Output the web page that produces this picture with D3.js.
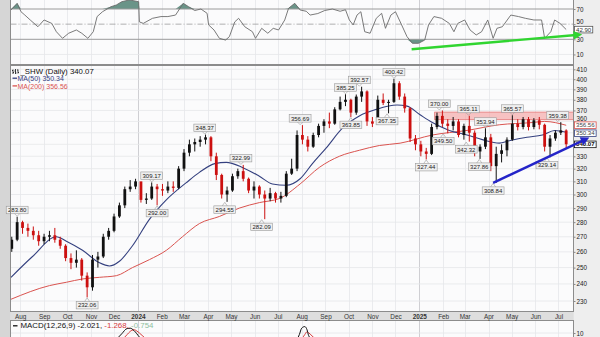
<!DOCTYPE html>
<html><head><meta charset="utf-8">
<script src="https://cdn.jsdelivr.net/npm/d3@7/dist/d3.min.js"></script>
<style>
html,body{margin:0;padding:0;background:#e4e4e4;overflow:hidden}
svg{display:block}
text{font-family:"Liberation Sans",Arial,sans-serif}
</style></head><body>
<svg id="chart" width="600" height="337"></svg>
<script>
// ---------- DATA ----------
// weekly OHLC (week ending Friday, from 2023-07-21 to 2025-07-11)
const opens=[262,268,280,276,274,271,267,270,271,268, 264,256,253,255,245,238,255,257,270,274,
 284,292,304,306,310,296,297,306,304,303, 306,305,320,333,340,342,344,346,330,315,
 300,303,314,318,312,303,306,300,297,301, 297,299,316,320,348,344,338,348,356,360,
 358,371,378,380,368,383,388,360,358,380, 377,378,396,383,372,345,340,334,332,355,
 365,358,356,360,348,356,350,334,338,346, 322,332,335,344,358,355,362,355,361,357,
 338,345,350,352];
const highs=[270,283.8,281,279,277,274,272,274,276,270, 265,259,261,256,247,258,260,272,276,286,
 294,306,311,312,309,301,309.17,308,308,310, 310,322,336,344,345,347,348.37,347,333,316,
 306,316,320,322.99,313,310,307,303,305,302, 302,318,328,352,356.69,347,350,358,362,368,
 373,383,385.25,381,385,392.57,389,364,384,386, 380,400.42,398,386,373,348,343,337,358,368,
 370,362,364,362,358,365.11,352,340,353.94,349, 338,340,346,365.57,362,364,364,363,364,358,
 348,352,359.38,353];
const lows=[260,267,272,270,268,264,265,267,266,262, 254,249,250,242,232.06,236,250,256,268,273,
 283,290,302,304,294,293,296,292,299,301, 302,304,318,330,334,338,340,326,311,297,
 294.55,302,312,310,301,297,297,282.09,295,294, 294,298,315,318,340,334,337,346,350,354,
 357,370,374,363.85,366,378,356,355,357,375, 367.35,377,380,368,342,335,330,327.44,331,353,
 355,349.5,352,346,344,342.32,330,327.86,336,318, 308.84,325,330,343,352,353,352,353,353,334,
 329.14,343,348,337];
const closes=[268,280,276,274,271,267,270,271,268,264, 256,253,255,245,238,255,257,270,274,284,
 292,304,306,310,296,297,306,304,303,306, 305,320,333,340,342,344,346,330,315,300,
 303,314,318,312,303,306,300,297,301,297, 299,316,320,348,344,338,348,356,360,358,
 371,378,380,368,383,388,360,358,380,377, 378,396,383,372,345,340,334,332,355,365,
 358,356,360,348,356,350,334,338,346,322, 332,335,344,358,355,362,355,361,357,338,
 345,350,352,340.07];

const ma50Dates=["2023-07-20","2023-08-17","2023-09-17","2023-09-30","2023-10-21","2023-11-12","2023-11-25","2023-12-08","2023-12-25","2024-01-16","2024-02-07","2024-03-04","2024-03-21","2024-04-10","2024-04-25","2024-05-16","2024-06-07","2024-06-24","2024-07-12","2024-07-30","2024-08-15","2024-09-02","2024-09-23","2024-10-15","2024-11-06","2024-12-03","2024-12-16","2025-01-02","2025-01-18","2025-02-09","2025-03-04","2025-03-24","2025-04-15","2025-04-28","2025-05-21","2025-06-10","2025-06-26","2025-07-11"];
const ma50Vals=[244,257,270,267,261,253,251,254,264,282,296,309,317,324,325,321,314,308,307,312,324,337,354,365,371,375,374,366,359,352,348,344,341,343,346,348,352,350.34];

const ma200Dates=["2023-07-20","2023-09-08","2023-09-30","2023-10-21","2023-11-12","2023-12-04","2023-12-25","2024-01-16","2024-02-07","2024-02-28","2024-03-21","2024-04-16","2024-05-12","2024-06-07","2024-07-03","2024-07-30","2024-08-24","2024-09-19","2024-10-15","2024-11-10","2024-12-07","2025-01-18","2025-03-04","2025-04-15","2025-05-28","2025-06-13","2025-07-11"];
const ma200Vals=[231,239,241,243,244,245,250,255,261,270,279,284,290,294,297,308,321,330,335,339,341,348,352,357,359,360,356.56];

const rsiDates=["2023-07-20","2023-07-28","2023-08-02","2023-08-07","2023-08-14","2023-08-24","2023-09-01","2023-09-11","2023-09-17","2023-09-25",
"2023-10-03","2023-10-13","2023-10-20","2023-10-28","2023-11-04","2023-11-09","2023-11-16","2023-11-27","2023-12-04","2023-12-11",
"2023-12-21","2024-01-02","2024-01-03","2024-01-08","2024-01-20","2024-01-31","2024-02-09","2024-02-19","2024-02-29","2024-03-07",
"2024-03-15","2024-03-23","2024-03-31","2024-04-02","2024-04-09","2024-04-16","2024-04-24","2024-04-29","2024-05-06","2024-05-11",
"2024-05-19","2024-05-29","2024-06-02","2024-06-10","2024-06-18","2024-06-25","2024-07-02","2024-07-10","2024-07-15","2024-07-23",
"2024-07-30","2024-08-07","2024-08-12","2024-08-22","2024-08-31","2024-09-10","2024-09-20","2024-09-27","2024-10-02","2024-10-07",
"2024-10-12","2024-10-17","2024-10-22","2024-10-29","2024-11-06","2024-11-13","2024-11-18","2024-11-25","2024-12-01","2024-12-09",
"2024-12-16","2024-12-23","2024-12-31","2025-01-08","2025-01-13","2025-01-20","2025-01-30","2025-02-09","2025-02-15","2025-02-20",
"2025-03-01","2025-03-08","2025-03-16","2025-03-23","2025-03-31","2025-04-07","2025-04-12","2025-04-19","2025-04-30","2025-05-10",
"2025-05-19","2025-05-30","2025-06-09","2025-06-13","2025-06-21","2025-06-26","2025-07-03","2025-07-11"];
const rsiVals=[68.7,77.5,66.4,62,55.5,46.6,55.5,51,40,31.3,
38,42.3,38,31.3,40,60,66.4,73,75.3,79.6,
82,79.6,53,51,57.7,60,60,62,77.5,73,
68,70,64.3,49,42.3,31.3,29,33.5,53,57.7,
46.6,40,31.3,44.5,38,44.5,42.3,55.5,71,77.5,
68.7,67,62,64,68,70,67,69,55.5,49,
62,66.4,40,38,57.7,64.3,44.5,62,66.4,49,
33.5,24.7,24.7,29,49,60,57.7,51,40,51,
55.5,42.3,35.7,40,55.5,31.3,44.5,46.6,62,60,
57.7,55.5,55.5,31.3,40,55.5,51,42.9];

const macdDates=["2023-07-20","2023-08-15","2023-09-15","2023-10-15","2023-10-31","2023-11-15","2023-11-30","2023-12-04","2023-12-11","2023-12-18","2023-12-22","2023-12-27","2024-01-03","2024-01-10","2024-01-31","2024-02-29","2024-03-28","2024-04-15","2024-04-30","2024-05-15","2024-06-10","2024-07-01","2024-07-15","2024-07-26","2024-07-29","2024-08-01","2024-08-05","2024-08-08","2024-08-10","2024-08-16","2024-08-23","2024-09-20","2024-10-15","2024-11-01","2024-11-29","2024-12-20","2025-01-10","2025-01-31","2025-02-28","2025-03-20","2025-04-08","2025-05-05","2025-05-30","2025-06-16","2025-07-11"];
const macdVals=[3,0,-3,-7,-9,-2,4,6,9.5,12.8,13,11.5,7.5,4.5,2,4,6.5,0,-6,-3,-5,-3,1,6,9,13,14,12,8.5,5,5,6.5,6,0,4,-6,-10,0,-1,-6,-10,2,3,-3,-2.021];
const signalVals=[4,2,-1,-5,-7,-5,0,2.5,5.5,9,11,12,10,7,3.5,3,6,3,-2,-3.5,-3.5,-3.5,-1.5,2,3.5,6,9,10.8,10.2,7.5,5.5,5.5,6,3,2,-1,-6,-4,-1,-3,-6,-3,2,0,-1.268];

const annDates=["2023-07-28","2023-10-27","2024-01-19","2024-01-26","2024-03-28","2024-04-23","2024-05-14","2024-06-10","2024-07-30","2024-09-27","2024-10-04","2024-10-15","2024-11-20","2024-11-29","2025-01-10","2025-01-27","2025-02-01","2025-03-03","2025-03-06","2025-03-20","2025-03-28","2025-04-07","2025-05-02","2025-06-16","2025-06-30"];
const annVals=[283.80,232.06,309.17,292.00,348.37,294.55,322.99,282.09,356.69,385.25,363.85,392.57,367.35,400.42,327.44,370.00,349.50,342.32,365.11,327.86,353.94,308.84,365.57,329.14,359.38];
const annSide=["H","L","H","L","H","L","H","L","H","H","L","H","L","H","L","H","L","L","H","L","H","L","H","L","H"];

const priceTicks=[230,240,250,260,270,280,290,300,310,320,330,360,370,380,390,400,410];
const gridTicks=[230,240,250,260,270,280,290,300,310,320,330,340,350,360,370,380,390,400,410];
const rsiTicks=[10,30,50,70];
const macdTicks=[10];
const lastClose=340.07, lastMA50=350.34, lastMA200=356.56, lastRSI=42.90;
const macdLast=[-2.021,-1.268,-0.754];
const resistance=[361.5,368.5], resistanceStart="2025-01-21";
const supportLine={dates:["2025-04-07","2025-08-03"],vals:[308.84,343.6]};
const rsiTrend={dates:["2024-12-22","2025-07-24"],vals:[16.8,35.7]};

// ---------- LAYOUT ----------
const L=10.5,R=573.5;
const rsiTop=-20,rsiBot=64.5,mainTop=65.5,mainBot=311.5,macdTop=320.5,macdBot=360;
const parse=d3.timeParse("%Y-%m-%d");
const x=d3.scaleTime().domain([new Date(2023,6,20),new Date(2025,6,20)]).range([11,573.1]);
const yP=d3.scaleLog().domain([230,410]).range([301,69.3]);
const yR=d3.scaleLinear().domain([30,70]).range([39.3,9]);
const yM=d3.scaleLinear().domain([0,10]).range([349,333]);

const svg=d3.select("#chart");
const defs=svg.append("defs");
function clip(id,y0,y1){defs.append("clipPath").attr("id",id).append("rect").attr("x",L).attr("y",y0).attr("width",R-L).attr("height",y1-y0);}
clip("cR",rsiTop,rsiBot);clip("cP",mainTop,mainBot);clip("cM",macdTop,macdBot);
function marker(id,col){defs.append("marker").attr("id",id).attr("viewBox","0 0 10 10").attr("refX",3).attr("refY",5)
 .attr("markerWidth",4.2).attr("markerHeight",3.6).attr("orient","auto").append("path").attr("d","M0,0L10,5L0,10z").attr("fill",col);}
marker("aB","#2424c8");marker("aG","#30d530");

svg.append("rect").attr("width",600).attr("height",337).attr("fill","#e4e4e4");
svg.append("rect").attr("x",0).attr("width",L).attr("height",337).attr("fill","#d6d6d6");
svg.append("rect").attr("x",R).attr("width",600-R).attr("height",337).attr("fill","#eeeeee");

const panels=[[rsiTop,rsiBot],[mainTop,mainBot],[macdTop,macdBot]];
panels.forEach(p=>svg.append("rect").attr("x",L).attr("y",p[0]).attr("width",R-L).attr("height",p[1]-p[0]).attr("fill","#fbfbfc"));
svg.append("rect").attr("x",L).attr("y",mainBot).attr("width",R-L).attr("height",macdTop-mainBot).attr("fill","#dedede");

const months=d3.timeMonth.range(new Date(2023,7,1),new Date(2025,6,2));
panels.forEach(p=>{
  svg.append("g").selectAll("line").data(months).join("line")
   .attr("x1",d=>Math.round(x(d))+0.5).attr("x2",d=>Math.round(x(d))+0.5).attr("y1",p[0]).attr("y2",p[1])
   .attr("stroke",d=>d.getMonth()===0?"#c4c4c8":"#e6e7ea").attr("stroke-width",0.8);
});
svg.append("g").selectAll("line").data(gridTicks).join("line")
 .attr("x1",L).attr("x2",R).attr("y1",d=>yP(d)).attr("y2",d=>yP(d)).attr("stroke","#e6e7ea").attr("stroke-width",0.8);
svg.append("g").selectAll("line").data([10,90]).join("line")
 .attr("x1",L).attr("x2",R).attr("y1",d=>yR(d)).attr("y2",d=>yR(d)).attr("stroke","#e6e7ea").attr("stroke-width",0.8);
svg.append("g").selectAll("line").data(macdTicks).join("line")
 .attr("x1",L).attr("x2",R).attr("y1",d=>yM(d)).attr("y2",d=>yM(d)).attr("stroke","#e6e7ea").attr("stroke-width",0.8);

// ---------- RSI ----------
const gR=svg.append("g").attr("clip-path","url(#cR)");
const rsi=rsiDates.map((d,i)=>({d:parse(d),v:rsiVals[i]}));
gR.append("path").datum(rsi).attr("fill","#6a9488")
 .attr("d",d3.area().x(d=>x(d.d)).y0(yR(70)).y1(d=>yR(Math.max(d.v,70))));
gR.append("path").datum(rsi).attr("fill","#6a9488")
 .attr("d",d3.area().x(d=>x(d.d)).y0(yR(30)).y1(d=>yR(Math.min(d.v,30))));
[70,30].forEach(v=>gR.append("line").attr("x1",L).attr("x2",R).attr("y1",yR(v)).attr("y2",yR(v)).attr("stroke","#9a9a9a").attr("stroke-width",1));
gR.append("line").attr("x1",L).attr("x2",R).attr("y1",yR(50)).attr("y2",yR(50)).attr("stroke","#9a9a9a").attr("stroke-width",0.8).attr("stroke-dasharray","6,2,1,2");
gR.append("path").datum(rsi).attr("fill","none").attr("stroke","#6b6b6b").attr("stroke-width",0.9)
 .attr("d",d3.line().x(d=>x(d.d)).y(d=>yR(d.v)));

// ---------- PRICE ----------
const gP=svg.append("g").attr("clip-path","url(#cP)");
gP.append("rect").attr("x",x(parse(resistanceStart))).attr("width",R-x(parse(resistanceStart)))
 .attr("y",yP(resistance[1])).attr("height",yP(resistance[0])-yP(resistance[1]))
 .attr("fill","#f4a3a3").attr("fill-opacity",0.65).attr("stroke","#e06a6a").attr("stroke-width",0.7);
const ma200=ma200Dates.map((d,i)=>({d:parse(d),v:ma200Vals[i]}));
const ma50=ma50Dates.map((d,i)=>({d:parse(d),v:ma50Vals[i]}));
const lineP=d3.line().x(d=>x(d.d)).y(d=>yP(d.v)).curve(d3.curveMonotoneX);
gP.append("path").datum(ma200).attr("fill","none").attr("stroke","#d9534f").attr("stroke-width",1).attr("d",lineP);
gP.append("path").datum(ma50).attr("fill","none").attr("stroke","#34407f").attr("stroke-width",1.1).attr("d",lineP);

const weekDates=d3.timeFriday.range(new Date(2023,6,21),new Date(2025,6,12));
const bars=weekDates.map((d,i)=>({d,o:opens[i],h:highs[i],l:lows[i],c:closes[i]}));
const col=d=>d.c>=d.o?"#111":"#cc1010";
gP.append("g").selectAll("line").data(bars).join("line")
 .attr("x1",d=>x(d.d)).attr("x2",d=>x(d.d)).attr("y1",d=>yP(d.h)).attr("y2",d=>yP(d.l))
 .attr("stroke",col).attr("stroke-width",1);
gP.append("g").selectAll("rect").data(bars).join("rect")
 .attr("x",d=>x(d.d)-1.4).attr("width",2.8)
 .attr("y",d=>yP(Math.max(d.o,d.c))).attr("height",d=>Math.max(1,Math.abs(yP(d.o)-yP(d.c))))
 .attr("fill",col);

// annotations
const gA=svg.append("g");
annDates.forEach((ds,i)=>{
  const cx=x(parse(ds)),py=yP(annVals[i]),hi=annSide[i]==="H";
  const g=gA.append("g");
  const r=g.append("rect");
  const t=g.append("text").attr("x",cx).attr("text-anchor","middle").attr("font-size",6).attr("fill","#222").text(annVals[i].toFixed(2));
  const w=t.node().getComputedTextLength()+3.5,h=7.5;
  const by=hi?py-3-h:py+4;
  r.attr("x",cx-w/2).attr("y",by).attr("width",w).attr("height",h).attr("fill","#efefef").attr("stroke","#9a9a9a").attr("stroke-width",0.6);
  t.attr("y",by+5.9);
  const e=hi?by+h:by;
  g.append("path").attr("d",`M${cx-2.5},${e}L${cx},${hi?py-0.5:py+0.5}L${cx+2.5},${e}`).attr("fill","none").attr("stroke","#999").attr("stroke-width",0.6);
});

// ---------- MACD ----------
const gM=svg.append("g").attr("clip-path","url(#cM)");
const macd=macdDates.map((d,i)=>({d:parse(d),m:macdVals[i],s:signalVals[i]}));
gM.append("path").datum(macd).attr("fill","none").attr("stroke","#d63a3a").attr("stroke-width",1)
 .attr("d",d3.line().x(d=>x(d.d)).y(d=>yM(d.s)).curve(d3.curveMonotoneX));
gM.append("path").datum(macd).attr("fill","none").attr("stroke","#111").attr("stroke-width",1)
 .attr("d",d3.line().x(d=>x(d.d)).y(d=>yM(d.m)).curve(d3.curveMonotoneX));

panels.forEach(p=>svg.append("rect").attr("x",L).attr("y",p[0]).attr("width",R-L).attr("height",p[1]-p[0]).attr("fill","none").attr("stroke","#8c8c8c").attr("stroke-width",1));

// ---------- AXES ----------
const axP=svg.append("g").attr("transform",`translate(${R},0)`)
 .call(d3.axisRight(yP).tickValues(priceTicks).tickFormat(d3.format("d")).tickSize(2).tickPadding(1));
const axR=svg.append("g").attr("transform",`translate(${R},0)`)
 .call(d3.axisRight(yR).tickValues(rsiTicks).tickSize(2).tickPadding(1));
const axM=svg.append("g").attr("transform",`translate(${R},0)`)
 .call(d3.axisRight(yM).tickValues(macdTicks).tickSize(2).tickPadding(1));
[axP,axR,axM].forEach(a=>{a.select(".domain").remove();a.selectAll("line").attr("stroke","#888");
 a.selectAll("text").attr("font-size",6.3).attr("fill","#222").attr("font-family","Liberation Sans, Arial, sans-serif");});
axP.selectAll(".tick").filter(d=>d===360).select("text").attr("dy","-0.12em");
axR.selectAll(".tick").filter(d=>d===50).select("text").attr("dy","-0.1em");
const axX=svg.append("g").attr("transform",`translate(0,${mainBot})`)
 .call(d3.axisBottom(x).tickValues(months).tickSize(0).tickPadding(2.6)
   .tickFormat(d=>d.getMonth()===0?d3.timeFormat("%Y")(d):d3.timeFormat("%b")(d)));
axX.select(".domain").remove();
axX.selectAll("text").attr("font-size",6.4).attr("fill","#333").attr("font-family","Liberation Sans, Arial, sans-serif")
 .attr("font-weight",d=>d.getMonth()===0?"bold":"normal");

function vbox(y,txt,stroke,bold,fill){
  const g=svg.append("g");
  const r=g.append("rect");
  const t=g.append("text").attr("x",R+2.5).attr("y",y+2.1).attr("font-size",6.1).attr("fill",fill||"#222").attr("font-weight",bold?"bold":"normal").text(txt);
  const w=t.node().getComputedTextLength()+3;
  r.attr("x",R+1).attr("y",y-3.2).attr("width",w).attr("height",6.6).attr("fill","#fff").attr("stroke",stroke).attr("stroke-width",0.8);
}
vbox(yP(lastMA200)-0.2,lastMA200.toFixed(2),"#d9534f",false,"#444");
vbox(yP(lastMA50)+0.8,lastMA50.toFixed(2),"#34407f",false,"#444");
vbox(yP(lastClose),lastClose.toFixed(2),"#111",true,"#111");
vbox(yR(lastRSI),lastRSI.toFixed(2),"#555",false,"#333");

svg.append("line").attr("x1",x(parse(supportLine.dates[0]))).attr("y1",yP(supportLine.vals[0]))
 .attr("x2",x(parse(supportLine.dates[1]))).attr("y2",yP(supportLine.vals[1]))
 .attr("stroke","#2424c8").attr("stroke-width",2.4).attr("marker-end","url(#aB)");
svg.append("line").attr("x1",x(parse(rsiTrend.dates[0]))).attr("y1",yR(rsiTrend.vals[0]))
 .attr("x2",x(parse(rsiTrend.dates[1]))).attr("y2",yR(rsiTrend.vals[1]))
 .attr("stroke","#30d530").attr("stroke-width",2.4).attr("marker-end","url(#aG)");

// ---------- LEGENDS ----------
const lg=svg.append("g");
lg.append("path").attr("d","M13,69.5v4.5M12,70.5h1M13,72.5h1M15.5,69v5M14.5,71h1M15.5,73h1M18,69.5v4M17,70h1M18,72.5h1")
 .attr("stroke","#111").attr("stroke-width",0.8);
lg.append("text").attr("x",20.5).attr("y",74.3).attr("font-size",7.8).attr("fill","#111").text("_SHW (Daily) "+lastClose.toFixed(2));
lg.append("line").attr("x1",12.5).attr("x2",17).attr("y1",78.2).attr("y2",78.2).attr("stroke","#34407f").attr("stroke-width",1.3);
lg.append("text").attr("x",17.5).attr("y",80.8).attr("font-size",7).attr("fill","#34407f").text("MA(50) "+lastMA50.toFixed(2));
lg.append("line").attr("x1",12.5).attr("x2",17).attr("y1",85.9).attr("y2",85.9).attr("stroke","#d9534f").attr("stroke-width",1.3);
lg.append("text").attr("x",17.5).attr("y",88.5).attr("font-size",7).attr("fill","#d9534f").text("MA(200) "+lastMA200.toFixed(2));
lg.append("line").attr("x1",13).attr("x2",17.5).attr("y1",325.8).attr("y2",325.8).attr("stroke","#111").attr("stroke-width",1.3);
const mt=lg.append("text").attr("x",20.5).attr("y",328.4).attr("font-size",7.9).attr("fill","#111");
mt.append("tspan").text("MACD(12,26,9) "+macdLast[0].toFixed(3)+", ");
mt.append("tspan").attr("fill","#d63a3a").text(macdLast[1].toFixed(3)+", ");
mt.append("tspan").attr("fill","#8fbf9f").text(macdLast[2].toFixed(3));
</script></body></html>
